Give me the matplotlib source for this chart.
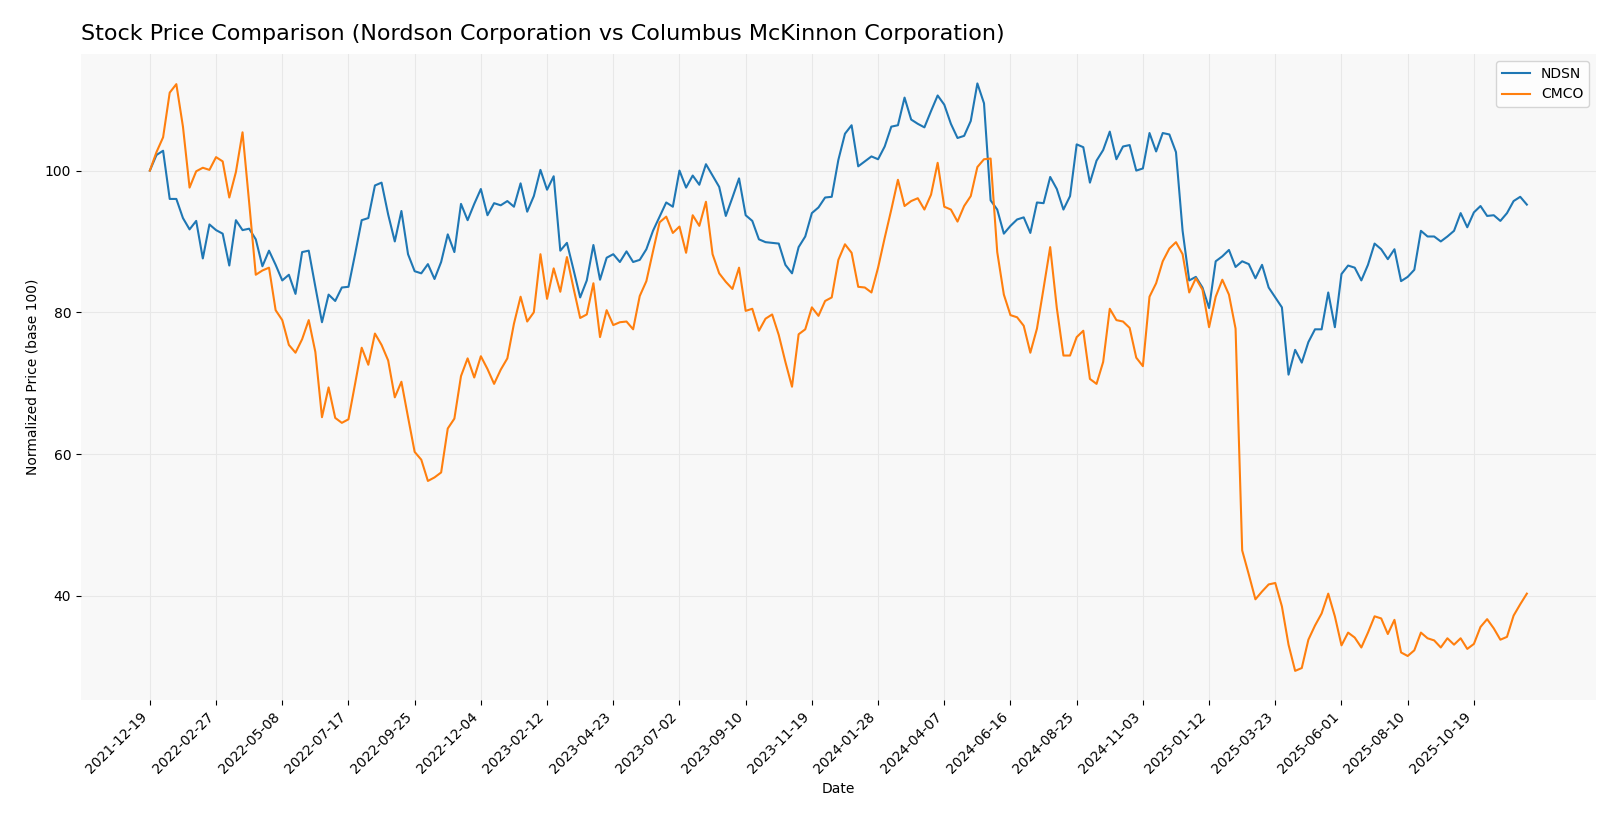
import numpy as np
import pandas as pd
import matplotlib
matplotlib.use("Agg")
import matplotlib.pyplot as plt

# weekly closes, normalized to 100 at the first week
start_date = "2021-12-19"

ndsn = [
    100.0, 102.2, 102.8, 96.0, 96.0, 93.3, 91.7, 92.9, 87.6, 92.4,
    91.6, 91.1, 86.6, 93.0, 91.6, 91.8, 90.3, 86.5, 88.7, 86.7,
    84.5, 85.3, 82.6, 88.5, 88.7, 83.6, 78.6, 82.5, 81.6, 83.5,
    83.6, 88.2, 93.0, 93.3, 97.9, 98.3, 93.8, 90.0, 94.3, 88.2,
    85.8, 85.5, 86.8, 84.7, 87.1, 91.0, 88.5, 95.3, 93.0, 95.3,
    97.4, 93.7, 95.4, 95.1, 95.7, 94.9, 98.2, 94.2, 96.4, 100.1,
    97.3, 99.2, 88.7, 89.8, 86.0, 82.1, 84.5, 89.5, 84.6, 87.7,
    88.2, 87.1, 88.6, 87.1, 87.4, 88.9, 91.5, 93.5, 95.5, 94.9,
    100.0, 97.6, 99.3, 98.0, 100.9, 99.3, 97.7, 93.6, 96.2, 98.9,
    93.7, 92.9, 90.3, 89.9, 89.8, 89.7, 86.7, 85.5, 89.2, 90.7,
    94.0, 94.8, 96.2, 96.3, 101.5, 105.2, 106.4, 100.6, 101.3, 102.0,
    101.6, 103.4, 106.2, 106.4, 110.3, 107.2, 106.6, 106.1, 108.4, 110.6,
    109.3, 106.6, 104.6, 104.9, 107.0, 112.3, 109.5, 95.8, 94.5, 91.1,
    92.2, 93.1, 93.4, 91.2, 95.5, 95.4, 99.1, 97.4, 94.5, 96.4,
    103.7, 103.3, 98.3, 101.4, 102.9, 105.5, 101.6, 103.4, 103.6, 100.0,
    100.3, 105.3, 102.7, 105.3, 105.1, 102.6, 91.5, 84.5, 85.0, 83.5,
    80.6, 87.2, 87.9, 88.8, 86.4, 87.2, 86.8, 84.8, 86.7, 83.5,
    82.1, 80.7, 71.2, 74.7, 72.9, 75.8, 77.6, 77.6, 82.8, 77.9,
    85.4, 86.6, 86.3, 84.5, 86.7, 89.7, 88.9, 87.5, 88.9, 84.4,
    85.0, 86.0, 91.5, 90.7, 90.7, 90.0, 90.7, 91.5, 94.0, 92.0,
    94.1, 95.0, 93.6, 93.7, 92.9, 94.0, 95.7, 96.3, 95.2,
]

cmco = [
    100.0, 102.6, 104.7, 111.0, 112.2, 106.2, 97.6, 99.9, 100.4, 100.1,
    101.9, 101.3, 96.2, 99.8, 105.4, 95.5, 85.3, 85.9, 86.3, 80.3,
    78.9, 75.4, 74.3, 76.2, 78.9, 74.4, 65.2, 69.4, 65.1, 64.4,
    64.9, 69.9, 75.0, 72.6, 77.0, 75.4, 73.2, 68.0, 70.2, 65.2,
    60.3, 59.2, 56.2, 56.7, 57.4, 63.6, 65.0, 71.0, 73.5, 70.8,
    73.8, 72.0, 69.9, 71.9, 73.5, 78.4, 82.2, 78.7, 80.0, 88.2,
    81.9, 86.2, 82.9, 87.8, 83.4, 79.2, 79.7, 84.1, 76.5, 80.3,
    78.2, 78.6, 78.7, 77.6, 82.3, 84.4, 88.6, 92.7, 93.5, 91.2,
    92.1, 88.4, 93.7, 92.2, 95.6, 88.2, 85.5, 84.3, 83.3, 86.3,
    80.2, 80.5, 77.4, 79.1, 79.7, 76.8, 73.0, 69.5, 76.9, 77.6,
    80.7, 79.5, 81.6, 82.1, 87.4, 89.6, 88.4, 83.6, 83.5, 82.8,
    86.3, 90.5, 94.5, 98.7, 95.0, 95.7, 96.1, 94.5, 96.6, 101.1,
    94.9, 94.5, 92.8, 95.0, 96.4, 100.5, 101.6, 101.7, 88.5, 82.5,
    79.6, 79.3, 78.1, 74.3, 77.7, 83.4, 89.2, 80.6, 73.9, 73.9,
    76.5, 77.4, 70.6, 69.9, 73.0, 80.5, 78.9, 78.7, 77.8, 73.6,
    72.4, 82.2, 84.1, 87.2, 89.0, 89.9, 88.2, 82.8, 84.8, 83.2,
    77.9, 82.2, 84.6, 82.5, 77.7, 46.4, 43.0, 39.5, 40.6, 41.6,
    41.8, 38.5, 33.1, 29.4, 29.8, 33.8, 35.8, 37.5, 40.3, 37.1,
    33.0, 34.8, 34.1, 32.7, 34.8, 37.1, 36.8, 34.6, 36.6, 32.0,
    31.5, 32.3, 34.8, 34.0, 33.7, 32.7, 34.0, 33.1, 34.0, 32.5,
    33.2, 35.6, 36.7, 35.4, 33.8, 34.2, 37.2, 38.8, 40.3,
]

dates = pd.date_range(start_date, periods=len(ndsn), freq="W")

fig = plt.figure(figsize=(16.2, 8.19), dpi=100)
ax = fig.add_axes([0.05, 0.145, 0.935, 0.789])
ax.set_facecolor("#f8f8f8")

ax.plot(dates, ndsn, color="#1f77b4", linewidth=1.5, label="NDSN")
ax.plot(dates, cmco, color="#ff7f0e", linewidth=1.5, label="CMCO")

ax.set_title("Stock Price Comparison (Nordson Corporation vs Columbus McKinnon Corporation)",
             loc="left", fontsize=16, pad=10)
ax.set_xlabel("Date")
ax.set_ylabel("Normalized Price (base 100)")

tick_dates = dates[::10]
ax.set_xticks(tick_dates)
ax.set_xticklabels([d.strftime("%Y-%m-%d") for d in tick_dates], rotation=45, ha="right")
ax.set_yticks([40, 60, 80, 100])

ax.grid(True, color="#e8e8e8", linewidth=0.8)
ax.set_axisbelow(True)
for s in ax.spines.values():
    s.set_visible(False)

ax.legend(loc="upper right")

fig.savefig("out.png", dpi=100)
